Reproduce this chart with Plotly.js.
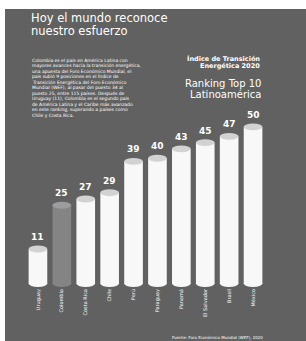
<!DOCTYPE html>
<html>
<head>
<meta charset="utf-8">
<script src="https://cdn.plot.ly/plotly-3.0.1.min.js"></script>
<style>
  html, body { margin: 0; padding: 0; background: #ffffff; width: 306px; height: 341px; overflow: hidden; }
  #chart { position: absolute; left: 5px; top: 9px; width: 301px; height: 332px; }
</style>
</head>
<body>
<div id="chart"></div>
<script>
// ---- data ----
const countries = ["Uruguay", "Colombia", "Costa Rica", "Chile", "Perú", "Paraguay", "Panamá", "El Salvador", "Brasil", "México"];
const ranks = [11, 25, 27, 29, 39, 40, 43, 45, 47, 50];
const highlightIndex = 1;

const titleLines = ["Hoy el mundo reconoce", "nuestro esfuerzo"];
const indexLines = ["Índice de Transición", "Energética 2020"];
const rankingLines = ["Ranking Top 10", "Latinoamérica"];
const bodyLines = [
  "Colombia es el país en América Latina con",
  "mayores avances hacia la transición energética,",
  "una apuesta del Foro Económico Mundial, el",
  "país subió 9 posiciones en el Índice de",
  "Transición Energética del Foro Económico",
  "Mundial (WEF), al pasar del puesto 34 al",
  "puesto 25, entre 115 países. Después de",
  "Uruguay (11), Colombia es el segundo país",
  "de América Latina y el Caribe más avanzado",
  "en este ranking, superando a países como",
  "Chile y Costa Rica."
];
const sourceText = "Fuente: Foro Económico Mundial (WEF), 2020";

// ---- layout helpers (page pixels -> paper coords) ----
const W = 301, H = 332, ML = 21, MR = 41, MT = 91, MB = 54;
const PW = W - ML - MR, PH = H - MT - MB;
const px = x => ((x - 5) - ML) / PW;
const py = y => (H - MB - (y - 9)) / PH;

const bg = "#616161";
const white = "#f8f8f8";
const barW = 0.78;

const barColors = ranks.map((v, i) => i === highlightIndex ? "#848484" : white);
const capColors = ranks.map((v, i) => i === highlightIndex ? "#9c9c9c" : "#d2d2d2");

const trace = {
  type: "bar",
  x: countries,
  y: ranks,
  marker: { color: barColors, line: { width: 0 } },
  hoverinfo: "skip"
};

const shapes = [];
ranks.forEach((v, i) => {
  shapes.push({ type: "circle", xref: "x", yref: "y", x0: i - barW / 2, x1: i + barW / 2, y0: -1.12, y1: 1.1,
    fillcolor: barColors[i], line: { width: 0 } });
  shapes.push({ type: "circle", xref: "x", yref: "y", x0: i - barW / 2, x1: i + barW / 2, y0: v - 1.1, y1: v + 1.1,
    fillcolor: capColors[i], line: { width: 0 } });
});

const font = "DejaVu Sans, sans-serif";
const annotations = [];
ranks.forEach((v, i) => {
  annotations.push({ x: countries[i], y: v, xref: "x", yref: "y", text: "<b>" + v + "</b>", showarrow: false,
    yanchor: "bottom", yshift: 5, font: { family: font, size: 9, color: "#ffffff" } });
});
titleLines.forEach((t, k) => {
  annotations.push({ xref: "paper", yref: "paper", x: px(29), y: py(17.5 + k * 13), xanchor: "left", yanchor: "middle",
    text: t, showarrow: false, font: { family: font, size: 11.5, color: "#ffffff" } });
});
indexLines.forEach((t, k) => {
  annotations.push({ xref: "paper", yref: "paper", x: px(262), y: py(58.5 + k * 8), xanchor: "right", yanchor: "middle",
    text: "<b>" + t + "</b>", showarrow: false, font: { family: font, size: 6.5, color: "#ffffff" } });
});
rankingLines.forEach((t, k) => {
  annotations.push({ xref: "paper", yref: "paper", x: px(263), y: py(83 + k * 11), xanchor: "right", yanchor: "middle",
    text: t, showarrow: false, font: { family: font, size: 10, color: "#ffffff" } });
});
bodyLines.forEach((t, k) => {
  annotations.push({ xref: "paper", yref: "paper", x: px(30), y: py(60 + k * 5.5), xanchor: "left", yanchor: "middle",
    text: t, showarrow: false, font: { family: font, size: 4.5, color: "#ffffff" } });
});
annotations.push({ xref: "paper", yref: "paper", x: px(265), y: py(337), xanchor: "right", yanchor: "middle",
  text: sourceText, showarrow: false, font: { family: font, size: 4, color: "#ffffff" } });

const layout = {
  width: W, height: H,
  margin: { l: ML, r: MR, t: MT, b: MB, pad: 0 },
  paper_bgcolor: bg, plot_bgcolor: bg,
  showlegend: false,
  bargap: 1 - barW,
  xaxis: { type: "category", range: [-0.5, 9.5], showgrid: false, zeroline: false, showline: false, ticks: "",
    tickangle: -90, tickfont: { family: font, size: 5, color: "#ffffff" }, fixedrange: true },
  yaxis: { range: [-1.12, 58.6], showgrid: false, zeroline: false, showline: false, showticklabels: false,
    ticks: "", fixedrange: true },
  shapes: shapes,
  annotations: annotations
};

Plotly.newPlot("chart", [trace], layout, { displayModeBar: false, staticPlot: true });
</script>
</body>
</html>
